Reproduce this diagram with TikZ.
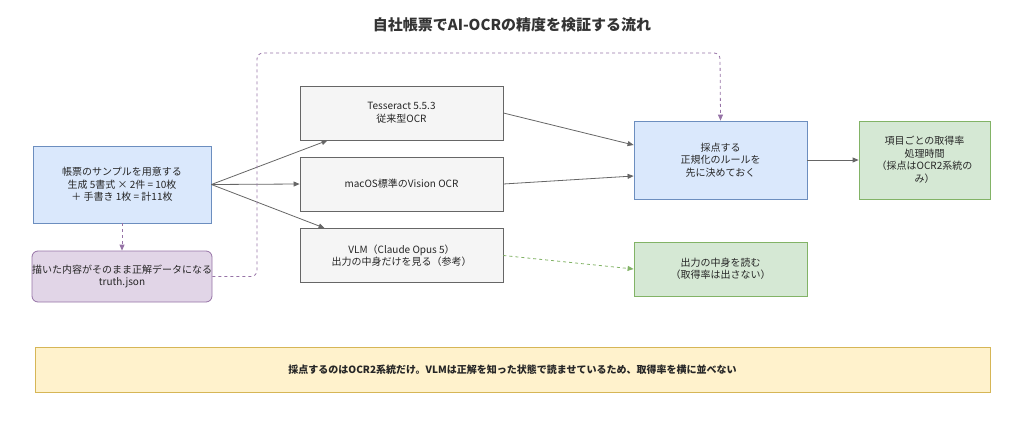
\documentclass[tikz,border=0pt]{standalone}
\usepackage{fontspec}
\setmainfont{Noto Sans CJK JP}
\usetikzlibrary{
  arrows.meta,
  positioning,
}
\definecolor{bluefill}{RGB}{218, 232, 252}
\definecolor{blueline}{RGB}{108, 142, 191}
\definecolor{greyfill}{RGB}{245, 245, 245}
\definecolor{greyline}{RGB}{102, 102, 102}
\definecolor{greenfill}{RGB}{213, 232, 212}
\definecolor{greenline}{RGB}{130, 179, 102}
\definecolor{purplefill}{RGB}{225, 213, 231}
\definecolor{purpleline}{RGB}{150, 115, 166}
\definecolor{yellowfill}{RGB}{255, 242, 204}
\definecolor{yellowline}{RGB}{214, 182, 86}
\tikzstyle{box} = [
  draw,
  line width=0.8pt,
  align=center,
  inner sep=2pt,
  font=\fontsize{10}{12.5}\selectfont,
  text=black!85,
]
\tikzstyle{arrow} = [
  -{Triangle[length=6pt,width=5pt]},
  line width=0.8pt,
  greyline,
]

\begin{document}
\begin{tikzpicture}[x=1pt, y=-1pt]

        \useasboundingbox (0,0) rectangle (1024,434);

        \node [font=\fontsize{15}{17}\selectfont\bfseries, text=black!80] (title) at (512,25)
              {自社帳票でAI-OCRの精度を検証する流れ};

        \node [box, fill=bluefill, draw=blueline, minimum width=178pt, minimum height=77pt] (sample) at (122,184.5)
              {帳票のサンプルを用意する\\生成 5書式 × 2件 = 10枚\\＋ 手書き 1枚 = 計11枚};

        \node [box, fill=purplefill, draw=purpleline, rounded corners=6pt, minimum width=178pt, minimum height=51pt, inner sep=0pt] (truth) at (122,276.5)
              {描いた内容がそのまま正解データになる\\truth.json};

        \node [box, fill=greyfill, draw=greyline, minimum width=203pt, minimum height=54pt] (tess) at (401.5,113)
              {Tesseract 5.5.3\\従来型OCR};

        \node [box, fill=greyfill, draw=greyline, minimum width=203pt, minimum height=54pt] (mac) at (401.5,184)
              {macOS標準のVision OCR};

        \node [box, fill=greyfill, draw=greyline, minimum width=203pt, minimum height=54pt] (vlm) at (401.5,255.5)
              {VLM（Claude Opus 5）\\出力の中身だけを見る（参考）};

        \node [box, fill=bluefill, draw=blueline, minimum width=173pt, minimum height=78pt] (score) at (720.5,160)
              {採点する\\正規化のルールを\\先に決めておく};

        \node [box, fill=greenfill, draw=greenline, minimum width=131pt, minimum height=78pt] (result) at (924.5,160)
              {項目ごとの取得率\\処理時間\\（採点はOCR2系統の\\み）};

        \node [box, fill=greenfill, draw=greenline, minimum width=173pt, minimum height=54pt] (read) at (720.5,269)
              {出力の中身を読む\\（取得率は出さない）};

        \node [box, fill=yellowfill, draw=yellowline, minimum width=955pt, minimum height=45pt, font=\fontsize{10}{12}\selectfont\bfseries] (note) at (512.5,369.5)
              {採点するのはOCR2系統だけ。VLMは正解を知った状態で読ませているため、取得率を横に並べない};

        \coordinate (top) at (720,53);

        \draw [arrow] (sample.east) -- ([xshift=28pt]tess.south west);
        \draw [arrow] (sample.east) -- (mac.west);
        \draw [arrow] (sample.east) -- ([xshift=25pt]vlm.north west);
        \draw [arrow] (tess.east) -- ([yshift=15pt]score.west);
        \draw [arrow] (mac.east) -- ([yshift=-16pt]score.west);
        \draw [arrow] (score.east) -- (result.west);

        \draw [arrow, greenline, dashed] (vlm.east) -- (read.west);

        \draw [arrow, purpleline, dashed] (sample.south) -- (truth.north);
        \draw [arrow, purpleline, dashed, rounded corners=6pt]
              (truth.east) -| (257,53) -- (top) -- (score.north);

      \end{tikzpicture}
\end{document}
